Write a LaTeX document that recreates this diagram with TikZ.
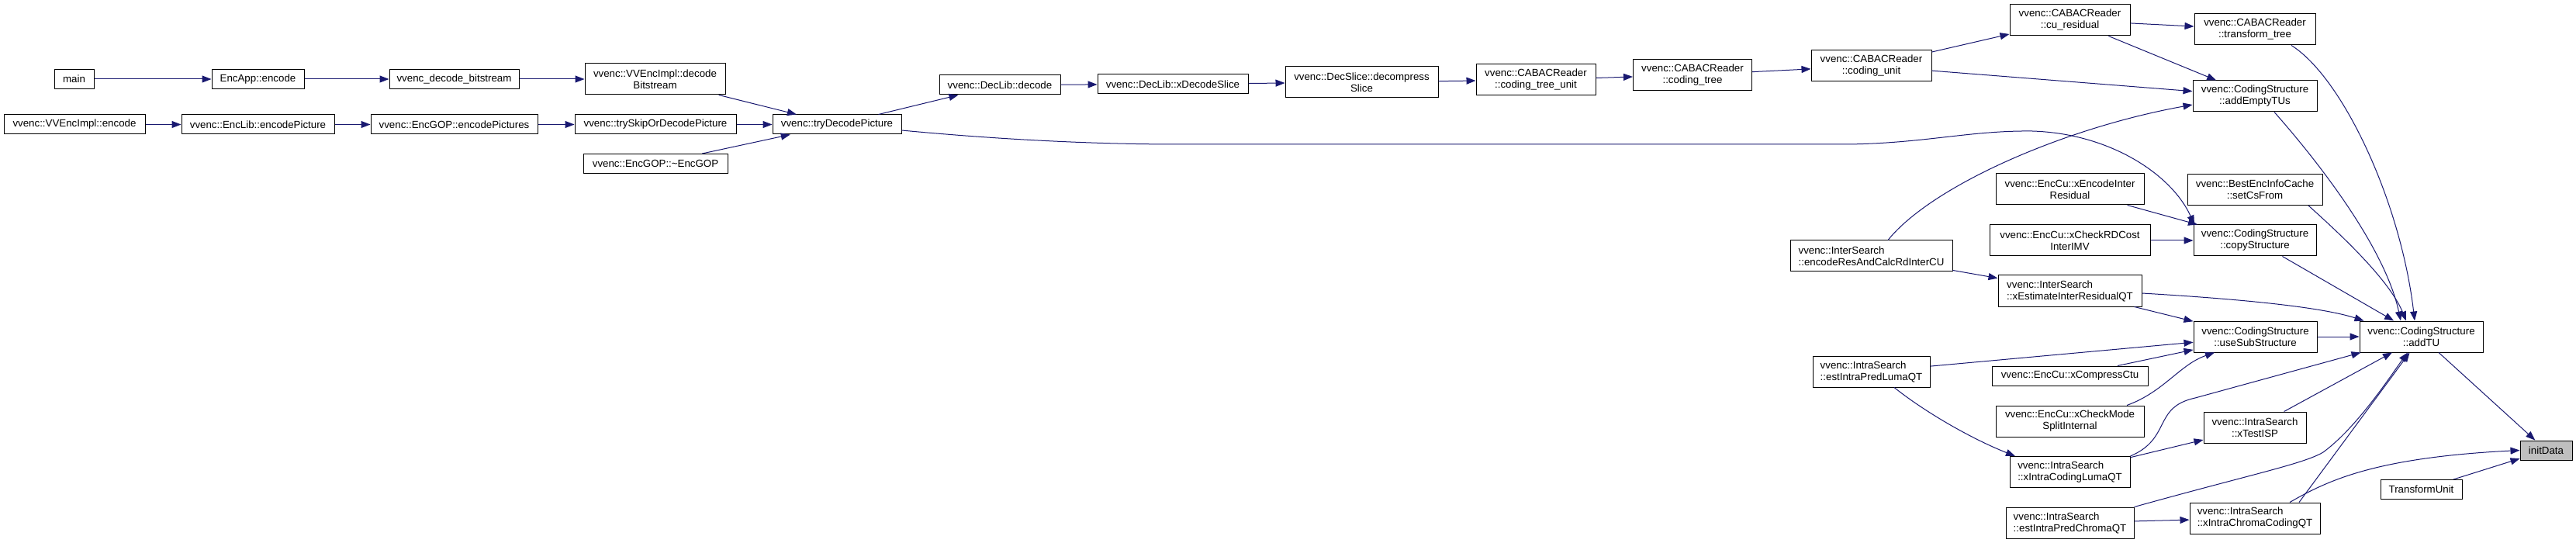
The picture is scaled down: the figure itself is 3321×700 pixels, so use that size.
\documentclass[tikz,border=0pt]{standalone}
\usepackage{fontspec}
\setmainfont{Liberation Sans}
\usepackage{tikz}
\usepackage{xcolor}
\usetikzlibrary{arrows.meta,calc}
\definecolor{Edge}{HTML}{191970}
\definecolor{Focus}{HTML}{BFBFBF}
\definecolor{Ink}{HTML}{000000}
\tikzset{
  box/.style={draw=Ink,fill=white,line width=1pt,inner sep=0pt,minimum height=25pt,align=center,font=\fontsize{13.3}{15}\selectfont,text=Ink},
  boxl/.style={box,align=left},
  focus/.style={box,fill=Focus},
  arr/.style={-{Triangle[length=12pt,width=9pt]},draw=Edge,line width=1pt}
}

\begin{document}
\begin{tikzpicture}[x=1pt,y=-1pt]
  \useasboundingbox (0,0) rectangle (3321,700);
  \node[box,minimum width=51pt] (main) at (95.5,102) {main};
  \node[box,minimum width=119pt] (appEncode) at (332.5,102) {EncApp::encode};
  \node[box,minimum width=167pt] (decodeBs) at (585.5,102) {vvenc\_decode\_bitstream};
  \node[box,minimum width=181pt,minimum height=40pt] (implDecode) at (844.5,102) {vvenc::VVEncImpl::decode\\Bitstream};
  \node[box,minimum width=182pt] (implEncode) at (96,160.5) {vvenc::VVEncImpl::encode};
  \node[box,minimum width=197pt] (libEncPic) at (332.5,160.5) {vvenc::EncLib::encodePicture};
  \node[box,minimum width=215pt] (gopEncPics) at (585.5,160.5) {vvenc::EncGOP::encodePictures};
  \node[box,minimum width=208pt] (trySkip) at (845,160.5) {vvenc::trySkipOrDecodePicture};
  \node[box,minimum width=186pt] (gopDtor) at (845,211) {vvenc::EncGOP::\textasciitilde EncGOP};
  \node[box,minimum width=166pt] (tryDecode) at (1079,160.5) {vvenc::tryDecodePicture};
  \node[box,minimum width=156pt] (libDecode) at (1289,109.5) {vvenc::DecLib::decode};
  \node[box,minimum width=194pt] (libSlice) at (1512,108.5) {vvenc::DecLib::xDecodeSlice};
  \node[box,minimum width=197pt,minimum height=40pt] (decompress) at (1755.5,106) {vvenc::DecSlice::decompress\\Slice};
  \node[box,minimum width=154pt,minimum height=40pt] (ctu) at (1980,103) {vvenc::CABACReader\\::coding\_tree\_unit};
  \node[box,minimum width=153pt,minimum height=40pt] (codingTree) at (2182,96.5) {vvenc::CABACReader\\::coding\_tree};
  \node[box,minimum width=155pt,minimum height=40pt] (codingUnit) at (2412.5,85) {vvenc::CABACReader\\::coding\_unit};
  \node[box,minimum width=155pt,minimum height=40pt] (cuResidual) at (2668.5,26) {vvenc::CABACReader\\::cu\_residual};
  \node[box,minimum width=156pt,minimum height=40pt] (transformTree) at (2907,38) {vvenc::CABACReader\\::transform\_tree};
  \node[box,minimum width=160pt,minimum height=40pt] (addEmptyTUs) at (2907,124) {vvenc::CodingStructure\\::addEmptyTUs};
  \node[box,minimum width=191pt,minimum height=40pt] (encInterRes) at (2668.5,244) {vvenc::EncCu::xEncodeInter\\Residual};
  \node[box,minimum width=174pt,minimum height=40pt] (setCsFrom) at (2907,244.5) {vvenc::BestEncInfoCache\\::setCsFrom};
  \node[box,minimum width=207pt,minimum height=40pt] (rdCostImv) at (2668.5,310) {vvenc::EncCu::xCheckRDCost\\InterIMV};
  \node[box,minimum width=158pt,minimum height=40pt] (copyStructure) at (2907,310) {vvenc::CodingStructure\\::copyStructure};
  \node[boxl,minimum width=209pt,minimum height=40pt] (encResInter) at (2412.5,330) {vvenc::InterSearch\\::encodeResAndCalcRdInterCU};
  \node[boxl,minimum width=185pt,minimum height=40pt] (estInterRes) at (2668.5,375) {vvenc::InterSearch\\::xEstimateInterResidualQT};
  \node[box,minimum width=159pt,minimum height=40pt] (useSub) at (2907.5,434) {vvenc::CodingStructure\\::useSubStructure};
  \node[box,minimum width=159pt,minimum height=40pt] (addTU) at (3121.5,434) {vvenc::CodingStructure\\::addTU};
  \node[boxl,minimum width=151pt,minimum height=40pt] (estLuma) at (2412.5,479) {vvenc::IntraSearch\\::estIntraPredLumaQT};
  \node[box,minimum width=201pt] (compressCtu) at (2668.5,484.5) {vvenc::EncCu::xCompressCtu};
  \node[box,minimum width=191pt,minimum height=40pt] (splitInternal) at (2668.5,543) {vvenc::EncCu::xCheckMode\\SplitInternal};
  \node[box,minimum width=132pt,minimum height=40pt] (testIsp) at (2907,551) {vvenc::IntraSearch\\::xTestISP};
  \node[boxl,minimum width=155pt,minimum height=40pt] (codingLuma) at (2668.5,608.5) {vvenc::IntraSearch\\::xIntraCodingLumaQT};
  \node[boxl,minimum width=165pt,minimum height=40pt] (estChroma) at (2668.5,674) {vvenc::IntraSearch\\::estIntraPredChromaQT};
  \node[boxl,minimum width=168pt,minimum height=40pt] (codingChroma) at (2907,668) {vvenc::IntraSearch\\::xIntraChromaCodingQT};
  \node[focus,minimum width=67pt] (initData) at (3282.5,580.5) {initData};
  \node[box,minimum width=105pt] (transformUnit) at (3121.5,631) {TransformUnit};
  \draw[arr] (main) -- (appEncode);
  \draw[arr] (appEncode) -- (decodeBs);
  \draw[arr] (decodeBs) -- (implDecode);
  \draw[arr] (implDecode) -- (tryDecode);
  \draw[arr] (implEncode) -- (libEncPic);
  \draw[arr] (libEncPic) -- (gopEncPics);
  \draw[arr] (gopEncPics) -- (trySkip);
  \draw[arr] (trySkip) -- (tryDecode);
  \draw[arr] (gopDtor) -- (tryDecode);
  \draw[arr] (tryDecode) -- (libDecode);
  \draw[arr] (libDecode) -- (libSlice);
  \draw[arr] (libSlice) -- (decompress);
  \draw[arr] (decompress) -- (ctu);
  \draw[arr] (ctu) -- (codingTree);
  \draw[arr] (codingTree) -- (codingUnit);
  \draw[arr] (codingUnit) -- (cuResidual);
  \draw[arr] (codingUnit) -- (addEmptyTUs);
  \draw[arr] (cuResidual) -- (transformTree);
  \draw[arr] (cuResidual) -- (addEmptyTUs);
  \draw[arr] ($(tryDecode.east)+(0,7.5)$) .. controls (1300,181) and (1420,186) .. (1520,186) -- (2380,186) .. controls (2480,185) and (2540,168) .. (2620,169) .. controls (2720,172) and (2800,225) .. ($(copyStructure.north)+(-78,0)$);
  \draw[arr] ($(encResInter.north)+(21.5,0)$) .. controls (2490,240) and (2660,165) .. ($(addEmptyTUs.west)+(0,11)$);
  \draw[arr] (encResInter) -- (estInterRes);
  \draw[arr] (encInterRes) -- (copyStructure);
  \draw[arr] (rdCostImv) -- (copyStructure);
  \draw[arr] ($(transformTree.south)+(47,0)$) .. controls (3020,100) and (3095,260) .. ($(addTU.north)+(-8.5,0)$);
  \draw[arr] ($(addEmptyTUs.south)+(25,0)$) .. controls (2990,210) and (3075,320) .. ($(addTU.north)+(-26.5,0)$);
  \draw[arr] ($(setCsFrom.south)+(69,0)$) .. controls (3015,300) and (3080,360) .. ($(addTU.north)+(-19.5,0)$);
  \draw[arr] (copyStructure) -- (addTU);
  \draw[arr] ($(estInterRes.east)+(0,3)$) .. controls (2880,385) and (2990,395) .. ($(addTU.north west)+(6,0)$);
  \draw[arr] (estInterRes) -- (useSub);
  \draw[arr] (estLuma) -- (useSub);
  \draw[arr] (compressCtu) -- (useSub);
  \draw[arr] ($(splitInternal.north)+(73.5,0)$) .. controls (2790,505) and (2810,470) .. ($(useSub.south)+(-52.5,0)$);
  \draw[arr] (useSub) -- (addTU);
  \draw[arr] ($(estLuma.south)+(29.5,0)$) .. controls (2480,530) and (2540,565) .. ($(codingLuma.north)+(-70.5,0)$);
  \draw[arr] (codingLuma.north east) .. controls (2800,565) and (2775,525) .. (2830,513) -- ($(addTU.south west)+(2,0)$);
  \draw[arr] (codingLuma) -- (testIsp);
  \draw[arr] (testIsp) -- (addTU);
  \draw[arr] (estChroma.north east) .. controls (2900,612) and (2970,598) .. (2995,583) .. controls (3040,550) and (3085,480) .. ($(addTU.south)+(-17.5,0)$);
  \draw[arr] (estChroma) -- (codingChroma);
  \draw[arr] ($(codingChroma.north)+(57,0)$) -- ($(addTU.south)+(-15,0)$);
  \draw[arr] ($(codingChroma.north)+(45,0)$) .. controls (3000,620) and (3060,590) .. (initData.west);
  \draw[arr] (addTU) -- (initData);
  \draw[arr] (transformUnit) -- (initData);
\end{tikzpicture}
\end{document}
